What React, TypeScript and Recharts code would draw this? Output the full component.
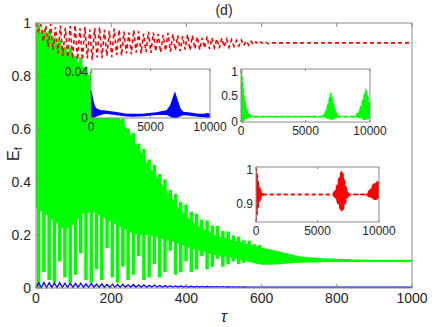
import React from 'react';
import { ComposedChart, Line, Area, Bar, XAxis, YAxis } from 'recharts';

// main panel: tau 0..1000
const tauTicks = [0, 200, 400, 600, 800, 1000];
const efTicks = [0, 0.2, 0.4, 0.6, 0.8, 1];

// red curve: crest + trough every 13 tau
const redPeriod = 13;
const redHigh = [
  1.0, 0.995, 0.99, 0.996, 0.985, 0.99, 0.982, 0.988, 0.992, 0.98,
  0.986, 0.975, 0.981, 0.985, 0.974, 0.97, 0.979, 0.975, 0.968, 0.964,
  0.974, 0.969, 0.96, 0.968, 0.964, 0.958, 0.955, 0.963, 0.958, 0.953,
  0.95, 0.957, 0.952, 0.948, 0.944, 0.949, 0.944, 0.94, 0.943, 0.939,
  0.937, 0.934, 0.936, 0.932, 0.931, 0.929, 0.928, 0.927,
];
const redLow = [
  0.97, 0.93, 0.91, 0.898, 0.885, 0.876, 0.87, 0.865, 0.861, 0.86,
  0.866, 0.862, 0.87, 0.867, 0.875, 0.871, 0.879, 0.877, 0.885, 0.881,
  0.888, 0.884, 0.89, 0.887, 0.893, 0.889, 0.895, 0.892, 0.897, 0.894,
  0.9, 0.897, 0.902, 0.899, 0.905, 0.902, 0.907, 0.905, 0.91, 0.908,
  0.912, 0.913, 0.915, 0.916, 0.918, 0.92, 0.921, 0.922,
];
const redTail = 0.925;

// blue curve: trough + crest every 14 tau
const bluePeriod = 14;
const blueLow = [
  0, 0.001, 0.0012, 0.0015, 0.0015, 0.0018, 0.0018, 0.002, 0.002, 0.002,
  0.0022, 0.0022, 0.0022, 0.0024, 0.0024, 0.0024, 0.0025, 0.0025, 0.0026, 0.0026,
  0.0027, 0.0027, 0.0028, 0.0028, 0.0028, 0.0029, 0.0029, 0.003, 0.003, 0.003,
  0.003, 0.003, 0.003, 0.003, 0.003, 0.003, 0.003, 0.003, 0.003, 0.003,
];
const blueHigh = [
  0.02, 0.021, 0.02, 0.019, 0.02, 0.018, 0.019, 0.017, 0.018, 0.016,
  0.017, 0.015, 0.016, 0.014, 0.015, 0.013, 0.014, 0.012, 0.013, 0.011,
  0.012, 0.01, 0.011, 0.0095, 0.009, 0.0085, 0.008, 0.0075, 0.007, 0.0065,
  0.006, 0.0058, 0.0055, 0.0052, 0.005, 0.0048, 0.0046, 0.0044, 0.0042, 0.004,
];
const blueTail = 0.003;

// green: vertical strokes every 14 tau (low/high) ...
const stripeHigh = [
  0.995, 0.975, 0.97, 0.945, 0.935, 0.91, 0.905, 0.875, 0.87, 0.835,
  0.815, 0.775, 0.755, 0.715, 0.7, 0.66, 0.64, 0.6, 0.585, 0.545,
  0.525, 0.485, 0.465, 0.43, 0.41, 0.37, 0.355, 0.325, 0.315, 0.288,
  0.28, 0.258, 0.255, 0.236, 0.234, 0.215, 0.213, 0.198, 0.194, 0.18,
  0.178, 0.165, 0.162,
];
const stripeLow = [
  0.0, 0.06, 0.03, 0.02, 0.1, 0.04, 0.02, 0.05, 0.13, 0.03,
  0.02, 0.07, 0.03, 0.15, 0.04, 0.02, 0.08, 0.03, 0.05, 0.12,
  0.03, 0.04, 0.09, 0.04, 0.06, 0.14, 0.05, 0.06, 0.1, 0.06,
  0.07, 0.12, 0.07, 0.08, 0.11, 0.08, 0.09, 0.1, 0.09, 0.095,
  0.1, 0.1, 0.1,
];
// ... and the densely filled part of the green band
const bandTau = [
  0, 25, 50, 75, 100, 125, 150, 175, 200, 225, 250, 275, 300, 325, 350, 375, 400, 425, 450,
  475, 500, 525, 550, 575, 600, 625, 650, 675, 700, 725, 750, 775, 800, 850, 900, 950, 1000,
];
const bandHigh = [
  0.975, 0.955, 0.93, 0.9, 0.87, 0.835, 0.785, 0.735, 0.685, 0.635, 0.585, 0.52, 0.46, 0.41, 0.36, 0.31, 0.27, 0.24, 0.22,
  0.2, 0.19, 0.18, 0.17, 0.16, 0.152, 0.145, 0.137, 0.128, 0.12, 0.116, 0.113, 0.111, 0.11, 0.108, 0.107, 0.107, 0.107,
];
const bandLow = [
  0.3, 0.28, 0.25, 0.22, 0.24, 0.28, 0.29, 0.27, 0.25, 0.23, 0.21, 0.2, 0.2, 0.19, 0.18, 0.17, 0.155, 0.145, 0.135,
  0.125, 0.12, 0.112, 0.105, 0.095, 0.088, 0.088, 0.09, 0.093, 0.095, 0.096, 0.097, 0.098, 0.098, 0.098, 0.098, 0.098, 0.098,
];

// insets: tau 0..10000
const longTicks = [0, 5000, 10000];

const blueInsetTau = [0, 150, 300, 500, 800, 1200, 2000, 3000, 3500, 4500, 5500, 6400, 6700, 6900, 7050, 7250, 7500, 7750, 8500, 9000, 9500, 9800, 10000];
const blueInsetLow = [0, 0, 0.001, 0.002, 0.003, 0.004, 0.003, 0.0018, 0.0015, 0.002, 0.003, 0.003, 0.0015, 0.0005, 0, 0.0008, 0.002, 0.003, 0.0022, 0.0015, 0.0012, 0.0008, 0.0015];
const blueInsetHigh = [0.022, 0.014, 0.009, 0.007, 0.006, 0.0055, 0.0045, 0.003, 0.0028, 0.0032, 0.0042, 0.006, 0.01, 0.016, 0.02, 0.014, 0.007, 0.0045, 0.0038, 0.003, 0.003, 0.0035, 0.003];

const greenInsetTau = [0, 100, 250, 450, 700, 1000, 6300, 6550, 6800, 6950, 7100, 7350, 7600, 8800, 9100, 9350, 9550, 9680, 9850, 10000];
const greenInsetLow = [0, 0.01, 0.04, 0.07, 0.095, 0.1, 0.1, 0.09, 0.07, 0.05, 0.06, 0.08, 0.1, 0.1, 0.09, 0.07, 0.05, 0.05, 0.06, 0.08];
const greenInsetHigh = [1.0, 0.8, 0.45, 0.22, 0.12, 0.105, 0.105, 0.18, 0.38, 0.55, 0.4, 0.18, 0.105, 0.105, 0.17, 0.32, 0.5, 0.6, 0.45, 0.3];

const redInsetTau = [0, 80, 200, 350, 500, 650, 6250, 6550, 6800, 6980, 7150, 7350, 7600, 8900, 9150, 9400, 9650, 9850, 10000];
const redInsetLow = [0.85, 0.87, 0.895, 0.912, 0.92, 0.925, 0.925, 0.91, 0.89, 0.878, 0.89, 0.912, 0.925, 0.925, 0.92, 0.915, 0.912, 0.912, 0.915];
const redInsetHigh = [1.0, 0.985, 0.955, 0.938, 0.93, 0.925, 0.925, 0.945, 0.975, 0.99, 0.97, 0.94, 0.925, 0.925, 0.932, 0.945, 0.956, 0.96, 0.957];

// tables for recharts
const redRows = redHigh
  .flatMap((h, k) => [
    { tau: k * redPeriod, ef: h },
    { tau: k * redPeriod + redPeriod / 2, ef: redLow[k] },
  ])
  .concat([{ tau: redHigh.length * redPeriod, ef: redTail }, { tau: 1000, ef: redTail }]);

const blueRows = blueLow
  .flatMap((l, k) => [
    { tau: k * bluePeriod, ef: l },
    { tau: k * bluePeriod + bluePeriod / 2, ef: blueHigh[k] },
  ])
  .concat([{ tau: blueLow.length * bluePeriod, ef: blueTail }, { tau: 1000, ef: blueTail }]);

const stripeRows = stripeHigh.map((h, k) => ({ tau: 7 + 14 * k, stripe: [stripeLow[k], h] }));
const bandRows = bandTau.map((t, i) => ({ tau: t, band: [bandLow[i], bandHigh[i]] }));

const rangeRows = (tau: number[], lo: number[], hi: number[]) =>
  tau.map((t, i) => ({ tau: t, v: [lo[i], hi[i]] }));

const ink = '#262626';
const frame = '#8a8a8a';
const font = '"Liberation Sans", Arial, Helvetica, sans-serif';

// MATLAB-like ticks: pointing inward, labels outside
const bottomTick = (len: number, size: number, gap: number) => (p: any) => (
  <g>
    <line x1={p.x} x2={p.x} y1={p.y} y2={p.y - len} stroke={frame} />
    <text x={p.x} y={p.y + gap + size * 0.35} textAnchor="middle" fill={ink} fontSize={size}>
      {p.payload.value}
    </text>
  </g>
);
const leftTick = (len: number, size: number, gap: number) => (p: any) => (
  <g>
    <line x1={p.x} x2={p.x + len} y1={p.y} y2={p.y} stroke={frame} />
    <text x={p.x - gap} y={p.y + size * 0.35} textAnchor="end" fill={ink} fontSize={size}>
      {p.payload.value}
    </text>
  </g>
);
const topTick = (len: number) => (p: any) => (
  <line x1={p.x} x2={p.x} y1={p.y} y2={p.y + len} stroke={frame} />
);
const rightTick = (len: number) => (p: any) => (
  <line x1={p.x} x2={p.x - len} y1={p.y} y2={p.y} stroke={frame} />
);

// fixed-width vertical stroke centred on the bar slot
const Stroke = (p: any) => {
  const w = 3.5;
  const cx = p.x + (p.width || 0) / 2;
  return <rect x={cx - w / 2} y={p.y} width={w} height={Math.max(p.height, 0)} fill="#00ff00" />;
};

type Box = { x: number; y: number; w: number; h: number };

const Inset = ({
  box,
  rows,
  domain,
  yTicks,
  color,
  dash,
}: {
  box: Box;
  rows: { tau: number; v: number[] }[];
  domain: [number, number];
  yTicks: number[];
  color: string;
  dash?: string;
}) => {
  const m = { top: 6, right: 24, bottom: 24, left: 36 };
  return (
    <div style={{ position: 'absolute', left: box.x - m.left, top: box.y - m.top }}>
      <div style={{ position: 'absolute', left: m.left, top: m.top, width: box.w, height: box.h, background: '#fff' }} />
      <div style={{ position: 'absolute', left: 0, top: 0 }}>
        <ComposedChart
          width={box.w + m.left + m.right}
          height={box.h + m.top + m.bottom}
          data={rows}
          margin={{ top: m.top - 2, right: m.right - 2, bottom: m.bottom - 16, left: m.left - 20 }}
        >
          <XAxis dataKey="tau" type="number" domain={[0, 10000]} ticks={longTicks} height={16}
            tickSize={0} tickMargin={0} tickLine={false} axisLine={{ stroke: frame }} tick={bottomTick(2, 12, 9)} />
          <XAxis xAxisId="top" orientation="top" dataKey="tau" type="number" domain={[0, 10000]} ticks={longTicks} height={2}
            tickSize={0} tickMargin={0} tickLine={false} axisLine={{ stroke: frame }} tick={topTick(2)} />
          <YAxis type="number" domain={domain} ticks={yTicks} width={20} allowDataOverflow
            tickSize={0} tickMargin={0} tickLine={false} axisLine={{ stroke: frame }} tick={leftTick(2, 12, 3)} />
          <YAxis yAxisId="right" orientation="right" type="number" domain={domain} ticks={yTicks} width={2}
            tickSize={0} tickMargin={0} tickLine={false} axisLine={{ stroke: frame }} tick={rightTick(2)} />
          <Area dataKey="v" type="linear" fill={color} fillOpacity={1} stroke={color}
            strokeWidth={1.4} strokeDasharray={dash} isAnimationActive={false} dot={false} activeDot={false} />
        </ComposedChart>
      </div>
    </div>
  );
};

const App = () => (
  <div style={{ position: 'absolute', left: 0, top: 0, width: 436, height: 327, background: '#fff', fontFamily: font }}>
    <div style={{ position: 'absolute', left: 0, top: 0 }}>
      <ComposedChart width={436} height={327} data={stripeRows} margin={{ top: 20, right: 20, bottom: 9, left: 6 }}>
        <XAxis dataKey="tau" type="number" domain={[0, 1000]} ticks={tauTicks} height={30}
          tickSize={0} tickMargin={0} tickLine={false} axisLine={{ stroke: frame }} tick={bottomTick(4, 14, 10)} />
        <XAxis xAxisId="top" orientation="top" dataKey="tau" type="number" domain={[0, 1000]} ticks={tauTicks} height={3}
          tickSize={0} tickMargin={0} tickLine={false} axisLine={{ stroke: frame }} tick={topTick(4)} />
        <YAxis type="number" domain={[0, 1]} ticks={efTicks} width={30}
          tickSize={0} tickMargin={0} tickLine={false} axisLine={{ stroke: frame }} tick={leftTick(4, 14, 5)} />
        <YAxis yAxisId="right" orientation="right" type="number" domain={[0, 1]} ticks={efTicks} width={4}
          tickSize={0} tickMargin={0} tickLine={false} axisLine={{ stroke: frame }} tick={rightTick(4)} />
        <Line data={redRows} dataKey="ef" type="linear" stroke="#ff0000" strokeWidth={1.6}
          strokeDasharray="4 3" dot={false} activeDot={false} isAnimationActive={false} />
        <Area data={bandRows} dataKey="band" type="linear" fill="#00ff00" fillOpacity={1} stroke="none"
          dot={false} activeDot={false} isAnimationActive={false} />
        <Bar dataKey="stripe" fill="#00ff00" barSize={3.5} shape={Stroke} isAnimationActive={false} />
        <Line data={blueRows} dataKey="ef" type="linear" stroke="#0000ff" strokeWidth={1.3}
          dot={false} activeDot={false} isAnimationActive={false} />
      </ComposedChart>
    </div>

    <Inset box={{ x: 91, y: 69, w: 119, h: 49 }} rows={rangeRows(blueInsetTau, blueInsetLow, blueInsetHigh)}
      domain={[0, 0.04]} yTicks={[0, 0.02, 0.04]} color="#0000ff" />
    <Inset box={{ x: 241, y: 69, w: 129, h: 53 }} rows={rangeRows(greenInsetTau, greenInsetLow, greenInsetHigh)}
      domain={[0, 1]} yTicks={[0, 0.5, 1]} color="#00ff00" dash="5 1.5" />
    <Inset box={{ x: 256, y: 167, w: 123, h: 55 }} rows={rangeRows(redInsetTau, redInsetLow, redInsetHigh)}
      domain={[0.85, 1]} yTicks={[0.9, 1]} color="#ff0000" dash="4 3" />

    <div style={{ position: 'absolute', left: 204, top: 2, width: 40, textAlign: 'center', fontSize: 14, lineHeight: '16px', color: ink }}>
      (d)
    </div>
    <div style={{ position: 'absolute', left: 214, top: 309, width: 20, textAlign: 'center', fontSize: 16, lineHeight: '16px', fontStyle: 'italic', color: ink }}>
      τ
    </div>
    <div style={{ position: 'absolute', left: -6, top: 144, width: 40, height: 20, textAlign: 'center', fontSize: 16, lineHeight: '20px', color: ink, transform: 'rotate(-90deg)' }}>
      E<sub style={{ fontSize: 11, verticalAlign: '-3px' }}>f</sub>
    </div>
  </div>
);

export default App;
